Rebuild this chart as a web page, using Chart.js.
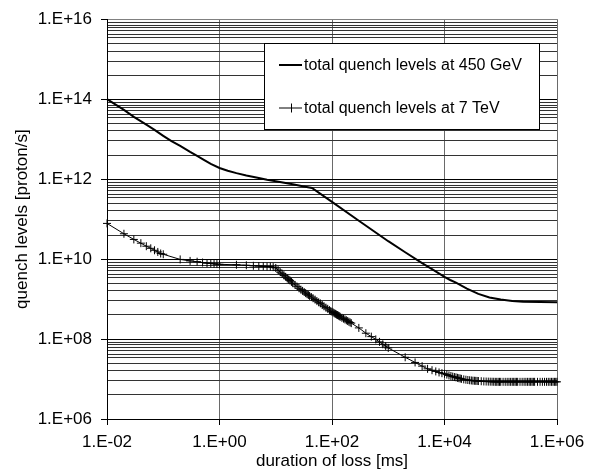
<!DOCTYPE html>
<html>
<head>
<meta charset="utf-8">
<script src="https://cdn.jsdelivr.net/npm/chart.js@4.4.1/dist/chart.umd.min.js"></script>
<style>
  html, body { margin: 0; padding: 0; background: #fff; }
  canvas { display: block; }
</style>
</head>
<body>
<canvas id="myChart" width="596" height="475"></canvas>
<script>
// duration of loss [ms] / quench level [proton/s]
const loss450 = [0.01, 0.02, 0.03, 0.05, 0.07, 0.1, 0.14, 0.2, 0.3, 0.4, 0.5, 0.7, 1, 1.4, 2, 3, 5, 7, 10, 20, 30, 44,
   100, 300, 1000, 2000, 4000, 6300, 10000, 12600, 16000, 25000, 40000, 63000,
   100000, 160000, 250000, 500000, 1000000];
const quench450 = [1.0e14, 5.4e13, 3.6e13, 2.3e13, 1.7e13, 1.21e13, 8.9e12, 6.8e12, 4.8e12, 3.8e12, 3.15e12, 2.4e12,
   1.9e12, 1.62e12, 1.41e12, 1.23e12, 1.07e12, 9.7e11, 8.9e11, 7.4e11, 6.6e11, 6.0e11,
   2.7e11, 9.1e10, 2.8e10, 1.48e10, 7.9e9, 5.4e9, 3.6e9, 3.0e9, 2.57e9, 1.82e9, 1.35e9, 1.1e9,
   9.7e8, 9.0e8, 8.6e8, 8.4e8, 8.3e8];

const loss7 = [0.01, 0.02, 0.03, 0.04, 0.05, 0.06, 0.07, 0.08, 0.09, 0.1,
   0.2, 0.3, 0.4, 0.5, 0.6, 0.7, 0.8, 0.9, 1,
   2, 3, 4, 5, 6, 7, 8, 9, 10,
   11, 12, 13, 14, 15, 16, 17, 18, 19, 20, 22, 24, 26, 28, 30, 32, 34, 36, 38, 40,
   43, 46, 50, 54, 58, 62, 67, 72, 78, 84, 90, 95, 100,
   105, 110, 115, 120, 125, 130, 135, 140, 150, 160, 170, 180, 190, 200, 210, 220,
   300, 400, 500, 600, 700, 800, 900, 1000,
   2000, 3000, 4000, 5000, 6000, 7000, 8000, 9000, 10000,
   11000, 12000, 13000, 14000, 15000, 16000, 17000, 18000, 19000, 20000,
   22000, 24000, 26000, 28000, 30000, 32000, 34000, 36000, 38000, 40000,
   45000, 50000, 55000, 60000, 65000, 70000, 75000, 80000, 85000, 90000, 95000, 100000,
   110000, 120000, 130000, 140000, 150000, 160000, 170000, 180000, 190000, 200000,
   220000, 240000, 260000, 280000, 300000, 320000, 340000, 360000, 380000, 400000,
   450000, 500000, 550000, 600000, 650000, 700000, 750000, 800000, 850000, 900000, 950000, 1000000];
const quench7 = [7.8e10, 4.3e10, 3.1e10, 2.5e10, 2.1e10, 1.86e10, 1.66e10, 1.51e10, 1.38e10, 1.32e10,
   9.8e9, 9.0e9, 8.6e9, 8.2e9, 7.9e9, 7.8e9, 7.6e9, 7.5e9, 7.4e9,
   7.2e9, 7.0e9, 6.8e9, 6.7e9, 6.6e9, 6.5e9, 6.45e9, 6.3e9, 6.0e9,
   5.3e9, 4.7e9, 4.3e9, 3.9e9, 3.6e9, 3.3e9, 3.1e9, 2.9e9, 2.7e9, 2.5e9, 2.26e9, 2.04e9, 1.86e9, 1.72e9, 1.6e9, 1.5e9, 1.41e9, 1.33e9, 1.26e9, 1.2e9,
   1.12e9, 1.05e9, 9.7e8, 8.9e8, 8.3e8, 7.8e8, 7.1e8, 6.6e8, 6.1e8, 5.7e8, 5.3e8, 5.0e8, 4.8e8,
   4.6e8, 4.4e8, 4.27e8, 4.1e8, 3.98e8, 3.85e8, 3.73e8, 3.6e8, 3.4e8, 3.24e8, 3.09e8, 2.95e8, 2.82e8, 2.7e8, 2.6e8, 2.5e8,
   1.9e8, 1.4e8, 1.15e8, 9.8e7, 8.5e7, 7.4e7, 6.7e7, 6.0e7,
   3.5e7, 2.6e7, 2.1e7, 1.8e7, 1.66e7, 1.55e7, 1.46e7, 1.4e7, 1.35e7,
   1.29e7, 1.23e7, 1.19e7, 1.15e7, 1.12e7, 1.1e7, 1.07e7, 1.05e7, 1.03e7, 1.01e7,
   9.8e6, 9.6e6, 9.45e6, 9.3e6, 9.2e6, 9.1e6, 9.05e6, 9.0e6, 8.95e6, 8.9e6,
   8.8e6, 8.7e6, 8.65e6, 8.6e6, 8.58e6, 8.55e6, 8.53e6, 8.5e6, 8.5e6, 8.5e6, 8.5e6, 8.5e6,
   8.5e6, 8.5e6, 8.5e6, 8.5e6, 8.5e6, 8.5e6, 8.5e6, 8.5e6, 8.5e6, 8.5e6,
   8.5e6, 8.5e6, 8.5e6, 8.5e6, 8.5e6, 8.5e6, 8.5e6, 8.5e6, 8.5e6, 8.5e6,
   8.5e6, 8.5e6, 8.5e6, 8.5e6, 8.5e6, 8.5e6, 8.5e6, 8.5e6, 8.5e6, 8.5e6, 8.5e6, 8.5e6];

const xTickExp = [-2, 0, 2, 4, 6];
const yTickExp = [6, 8, 10, 12, 14, 16];
// extra horizontal grid lines inside each two-decade band (multiples of the lower label)
const yGridSteps = [4, 9, 16, 24, 34, 42, 51, 61, 71, 82];

function expLabel(e) {
   return '1.E' + (e < 0 ? '-' : '+') + String(Math.abs(e)).padStart(2, '0');
}

Chart.defaults.font.family = '"Liberation Sans", Arial, sans-serif';
Chart.defaults.color = '#000';

const legendBox = {
   id: 'legendBox',
   afterDraw(chart) {
      const c = chart.ctx;
      const x = 264, y = 43, w = 275, h = 86;
      c.save();
      c.fillStyle = '#fff';
      c.fillRect(x, y, w, h);
      c.strokeStyle = '#000';
      c.lineWidth = 1;
      c.strokeRect(x + 0.5, y + 0.5, w, h);
      c.font = '16px "Liberation Sans", Arial, sans-serif';
      c.textBaseline = 'middle';
      c.fillStyle = '#000';
      chart.data.datasets.forEach((ds, i) => {
         const ly = y + 22 + i * 43;
         c.beginPath();
         c.lineWidth = ds.borderWidth;
         c.moveTo(x + 15, ly);
         c.lineTo(x + 38, ly);
         if (ds.pointStyle === 'cross') {
            c.moveTo(x + 27.5, ly - 4.5);
            c.lineTo(x + 27.5, ly + 4.5);
         }
         c.stroke();
         c.fillText(ds.label, x + 40, ly + 1);
      });
      c.restore();
   }
};

const ctx = document.getElementById('myChart');

new Chart(ctx, {
   type: 'line',
   data: {
      datasets: [{
         label: 'total quench levels at 450 GeV',
         data: loss450.map((v, i) => ({ x: v, y: quench450[i] })),
         borderColor: '#000',
         borderWidth: 2,
         pointRadius: 0,
         clip: false
      }, {
         label: 'total quench levels at 7 TeV',
         data: loss7.map((v, i) => ({ x: v, y: quench7[i] })),
         borderColor: '#000',
         borderWidth: 1,
         pointStyle: 'cross',
         pointRadius: 4,
         pointBorderWidth: 1,
         pointBorderColor: '#000',
         clip: false
      }]
   },
   options: {
      responsive: false,
      animation: false,
      devicePixelRatio: 1,
      layout: { padding: { left: 0, right: 39, top: 19, bottom: 0 } },
      plugins: {
         legend: { display: false },
         tooltip: { enabled: false }
      },
      scales: {
         x: {
            type: 'logarithmic',
            min: 0.01,
            max: 1e6,
            afterBuildTicks: scale => {
               scale.ticks = xTickExp.map(e => ({ value: Math.pow(10, e), major: true }));
            },
            afterFit: scale => { scale.height = 56; },
            ticks: {
               autoSkip: false,
               maxRotation: 0,
               padding: 7,
               font: { size: 17 },
               callback: value => expLabel(Math.round(Math.log10(value)))
            },
            grid: { color: '#6a6a6a', tickColor: '#000', tickLength: 6 },
            border: { color: '#000', width: 1 },
            title: {
               display: true,
               text: 'duration of loss [ms]',
               font: { size: 17 },
               padding: { top: 0, bottom: 3 }
            }
         },
         y: {
            type: 'logarithmic',
            min: 1e6,
            max: 1e16,
            afterBuildTicks: scale => {
               const t = [];
               yTickExp.forEach((e, i) => {
                  t.push({ value: Math.pow(10, e), major: true });
                  if (i < yTickExp.length - 1) {
                     yGridSteps.forEach(m => t.push({ value: m * Math.pow(10, e), major: false }));
                  }
               });
               scale.ticks = t;
            },
            afterFit: scale => { scale.width = 107; },
            ticks: {
               autoSkip: false,
               padding: 9,
               font: { size: 17 },
               callback: (value, index, ticks) =>
                  ticks[index].major ? expLabel(Math.round(Math.log10(value))) : ''
            },
            grid: {
               color: c => (c.tick && c.tick.value >= 1e16) ? '#808080' : (c.tick && c.tick.major ? '#000' : '#333'),
               tickColor: c => (c.tick && c.tick.major) ? '#000' : 'rgba(0,0,0,0)',
               tickLength: 6
            },
            border: { color: '#000', width: 1 },
            title: {
               display: true,
               text: 'quench levels [proton/s]',
               font: { size: 17 },
               padding: { top: 12, bottom: 0 }
            }
         }
      }
   },
   plugins: [legendBox]
});
</script>
</body>
</html>
